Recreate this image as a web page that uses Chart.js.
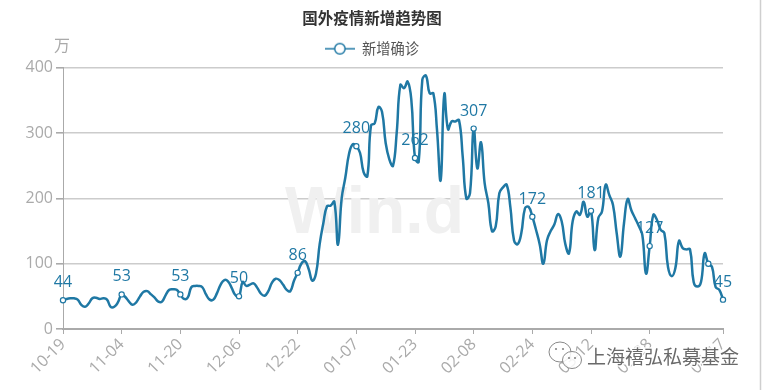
<!DOCTYPE html>
<html><head><meta charset="utf-8">
<style>html,body{margin:0;padding:0;background:#fff}#w{width:762px;height:390px;position:relative}</style>
<script src="https://cdn.jsdelivr.net/npm/chart.js@4"></script>
</head><body><div id="w"><canvas id="c" width="762" height="390"></canvas></div>
<script>
const dates=["10-19","10-20","10-21","10-22","10-23","10-24","10-25","10-26","10-27","10-28","10-29","10-30","10-31",
"11-01","11-02","11-03","11-04","11-05","11-06","11-07","11-08","11-09","11-10","11-11","11-12","11-13","11-14","11-15","11-16","11-17","11-18","11-19","11-20","11-21","11-22","11-23","11-24","11-25","11-26","11-27","11-28","11-29","11-30",
"12-01","12-02","12-03","12-04","12-05","12-06","12-07","12-08","12-09","12-10","12-11","12-12","12-13","12-14","12-15","12-16","12-17","12-18","12-19","12-20","12-21","12-22","12-23","12-24","12-25","12-26","12-27","12-28","12-29","12-30","12-31",
"01-01","01-02","01-03","01-04","01-05","01-06","01-07","01-08","01-09","01-10","01-11","01-12","01-13","01-14","01-15","01-16","01-17","01-18","01-19","01-20","01-21","01-22","01-23","01-24","01-25","01-26","01-27","01-28","01-29","01-30","01-31",
"02-01","02-02","02-03","02-04","02-05","02-06","02-07","02-08","02-09","02-10","02-11","02-12","02-13","02-14","02-15","02-16","02-17","02-18","02-19","02-20","02-21","02-22","02-23","02-24","02-25","02-26","02-27","02-28",
"03-01","03-02","03-03","03-04","03-05","03-06","03-07","03-08","03-09","03-10","03-11","03-12","03-13","03-14","03-15","03-16","03-17","03-18","03-19","03-20","03-21","03-22","03-23","03-24","03-25","03-26","03-27","03-28","03-29","03-30","03-31",
"04-01","04-02","04-03","04-04","04-05","04-06","04-07","04-08","04-09","04-10","04-11","04-12","04-13","04-14","04-15","04-16","04-17"];
const newCases=[44,46,47,47,45,37,34,39,47,48,46,47,45,34,34,41,53,49,42,37,41,50,57,58,53,48,42,42,52,60,61,60,53,46,48,64,66,66,64,53,45,45,55,68,75,73,63,52,50,72,66,68,70,63,54,51,58,71,77,75,68,60,58,74,86,100,104,92,74,85,130,162,188,189,195,129,200,232,268,283,280,270,240,234,312,315,340,333,285,260,250,300,374,369,379,351,262,256,382,388,361,361,305,228,360,306,318,318,320,265,200,208,307,246,286,223,193,150,157,208,217,221,187,136,130,147,185,187,172,152,130,100,136,150,160,176,165,130,116,165,180,175,195,172,181,121,170,180,221,205,190,147,111,162,199,182,170,158,144,85,127,175,167,152,147,95,81,93,135,124,122,122,72,65,72,116,100,95,64,60,45];
const tickDates=["10-19","11-04","11-20","12-06","12-22","01-07","01-23","02-08","02-24","03-12","03-28","04-17"];
const markedDates=["10-19","11-04","11-20","12-06","12-22","01-07","01-23","02-08","02-24","03-12","03-28","04-13","04-17"];
const labelledDates=["10-19","11-04","11-20","12-06","12-22","01-07","01-23","02-08","02-24","03-12","03-28","04-17"];
const yTicks=[0,100,200,300,400];
const titleText="国外疫情新增趋势图", seriesName="新增确诊", unitText="万", markText="Win.d", brandText="上海禧弘私募基金";
const LINE="#1f78a4", FONT="'Open Sans','Noto Sans CJK SC',sans-serif", CJK="'Noto Sans CJK SC',sans-serif";

const swatch=document.createElement('canvas');swatch.width=30;swatch.height=14;
(()=>{const g=swatch.getContext('2d');g.strokeStyle=LINE;g.lineWidth=1.5;g.beginPath();g.moveTo(0,7);g.lineTo(30,7);g.stroke();
g.fillStyle='#fff';g.beginPath();g.arc(15,7,5.2,0,Math.PI*2);g.fill();g.stroke();})();

const back={id:'back',beforeDatasetsDraw(ch){const g=ch.ctx;g.save();
 g.fillStyle='#f0f0f0';g.font="bold 66px 'Liberation Sans',sans-serif";g.textAlign='left';g.textBaseline='alphabetic';
 g.fillText(markText,285,233);g.restore();}};
const front={id:'front',afterDraw(ch){const g=ch.ctx,m=ch.getDatasetMeta(0);g.save();
 g.fillStyle='#aaa';g.font="16px "+CJK;g.textAlign='left';g.textBaseline='middle';g.fillText(unitText,54,45);
 g.fillStyle=LINE;g.font="16px "+FONT;g.textAlign='center';g.textBaseline='alphabetic';
 labelledDates.forEach(d=>{const i=dates.indexOf(d),p=m.data[i];g.fillText(String(newCases[i]),p.x,p.y-13);});
 g.strokeStyle='#888';g.lineWidth=1;g.fillStyle='rgba(255,255,255,.85)';
 g.beginPath();g.ellipse(560,352,11,10,0,0,Math.PI*2);g.fill();g.stroke();
 g.beginPath();g.ellipse(572,360,9.5,8.5,0,0,Math.PI*2);g.fill();g.stroke();
 g.fillStyle='#888';[[556,349],[563,349],[569,358],[575,358]].forEach(([x,y])=>{g.beginPath();g.arc(x,y,1.1,0,Math.PI*2);g.fill();});
 g.font="19px "+CJK;g.textAlign='left';g.textBaseline='middle';
 g.lineWidth=3;g.strokeStyle='rgba(255,255,255,.9)';
 [...brandText].forEach((t,k)=>{g.strokeText(t,587+k*19,357);});
 g.fillStyle='#6a6a6a';[...brandText].forEach((t,k)=>{g.fillText(t,587+k*19,357);});
 g.strokeStyle='#cfcfcf';g.lineWidth=1.5;g.beginPath();g.moveTo(760.5,0);g.lineTo(760.5,390);g.stroke();
 g.restore();}};

new Chart(document.getElementById('c'),{type:'line',
 data:{labels:dates,datasets:[{label:seriesName,data:newCases,xAxisID:'x',yAxisID:'y',borderColor:LINE,borderWidth:2.5,tension:.45,
  backgroundColor:'#fff',fill:false,pointStyle:'circle',clip:false,
  pointRadius:c=>markedDates.includes(dates[c.dataIndex])?2.6:0,pointHoverRadius:0,
  pointBorderColor:LINE,pointBackgroundColor:'#fff',pointBorderWidth:1.2}]},
 options:{responsive:false,animation:false,
  layout:{padding:{left:0,right:18,top:8,bottom:0}},
  plugins:{tooltip:{enabled:false},
   title:{display:true,text:titleText,color:'#333',font:{family:CJK,size:15.5,weight:'bold'},padding:{top:1,bottom:4}},
   legend:{display:true,position:'top',labels:{usePointStyle:true,pointStyleWidth:30,boxHeight:14,color:'#555',font:{family:CJK,size:14.3},padding:10,
    generateLabels:()=>[{text:seriesName,pointStyle:swatch,fontColor:'#555',lineWidth:0,strokeStyle:LINE,fillStyle:'#fff'}]}}},
  scales:{
   x:{type:'category',offset:false,
    afterBuildTicks(s){s.ticks=s.ticks.filter(t=>tickDates.includes(dates[t.value]));},
    afterFit(s){s.height=61;},
    grid:{display:true,drawOnChartArea:false,drawTicks:true,tickLength:5,color:'#aaa',lineWidth:1},
    border:{display:true,color:'#aaa',width:2},
    ticks:{autoSkip:false,maxRotation:45,minRotation:45,color:'#aaa',font:{family:FONT,size:16},padding:1,
     callback(v){return dates[v];}}},
   y:{min:0,max:400,
    afterBuildTicks(s){s.ticks=yTicks.map(v=>({value:v}));},
    afterFit(s){s.width=63;},
    grid:{color:'#cccccc',lineWidth:1.6,tickLength:7,tickColor:'#aaa'},
    border:{display:true,color:'#aaa',width:1},
    ticks:{color:'#aaa',font:{family:FONT,size:16},padding:3}},
   gutter:{axis:'y',position:'right',display:true,min:0,max:400,afterFit(s){s.width=21;},
    grid:{display:false},border:{display:false},ticks:{display:false}},
   topGap:{axis:'x',type:'linear',position:'top',display:true,min:0,max:1,afterFit(s){s.height=2;},
    grid:{display:false},border:{display:false},ticks:{display:false}}}},
 plugins:[back,front]});
</script></body></html>
